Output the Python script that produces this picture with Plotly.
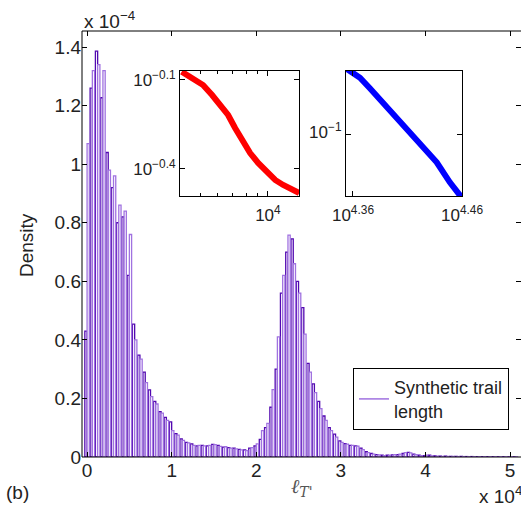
import plotly.graph_objects as go

# ---------------- data ----------------
bin_width = 625.0  # trail length bin width
# density values in units of 1e-4, two interleaved histogram series
dens_dark = [0.43, 1.26, 1.386, 1.227, 1.04, 0.92, 0.80, 0.82, 0.62, 0.454,
             0.348, 0.29, 0.229, 0.19, 0.155, 0.135, 0.12, 0.08, 0.062, 0.05,
             0.045, 0.038, 0.04, 0.038, 0.043, 0.04, 0.034, 0.032, 0.03, 0.026,
             0.024, 0.03, 0.038, 0.06, 0.10, 0.17, 0.30, 0.56, 0.70, 0.745,
             0.60, 0.51, 0.32, 0.25, 0.19, 0.14, 0.10, 0.078, 0.055, 0.046,
             0.04, 0.038, 0.03, 0.018, 0.012, 0.008, 0.006, 0.006, 0.007, 0.008,
             0.012, 0.016, 0.01, 0.006, 0.005, 0.006, 0.004, 0.003, 0.003, 0.002,
             0.002, 0.002, 0.0015, 0.0015, 0.001, 0.001, 0.001, 0.001, 0.0008, 0.0008,
             0.0005, 0.0005]
dens_light = [1.07, 1.32, 1.34, 1.32, 0.98, 0.96, 0.86, 0.84, 0.76, 0.40,
              0.334, 0.254, 0.206, 0.181, 0.15, 0.125, 0.09, 0.075, 0.057, 0.048,
              0.04, 0.04, 0.038, 0.04, 0.042, 0.036, 0.035, 0.03, 0.028, 0.024,
              0.022, 0.032, 0.045, 0.09, 0.115, 0.23, 0.41, 0.62, 0.758, 0.66,
              0.56, 0.42, 0.29, 0.22, 0.165, 0.125, 0.09, 0.068, 0.05, 0.044,
              0.04, 0.037, 0.025, 0.015, 0.01, 0.007, 0.005, 0.006, 0.008, 0.01,
              0.015, 0.014, 0.008, 0.005, 0.006, 0.004, 0.003, 0.002, 0.002, 0.002,
              0.0015, 0.0015, 0.001, 0.001, 0.001, 0.001, 0.0008, 0.0008, 0.0005, 0.0005,
              0.0004, 0.0004]
bin_centers = [i * bin_width for i in range(len(dens_dark))]

# inset 1 (red): log-log curve
red_x = [4146, 4654, 5155, 5653, 6262, 6658, 7152, 7685, 8339, 9051, 9924,
         10771, 11690, 12818, 13770]
red_y = [0.8464, 0.8061, 0.7636, 0.7066, 0.6439, 0.6052, 0.5471, 0.4985, 0.4506,
         0.4170, 0.3889, 0.3656, 0.3517, 0.3409, 0.3305]

# inset 2 (blue): log-log curve
blue_x = [22610, 23250, 23740, 24410, 25130, 25800, 26520, 27340, 28110, 28840]
blue_y = [0.1595, 0.1497, 0.1390, 0.1252, 0.1128, 0.1030, 0.0928, 0.0825, 0.0716, 0.0641]

x_tickvals = [0, 10000, 20000, 30000, 40000, 50000]
x_ticktext = ["0", "1", "2", "3", "4", "5"]
y_tickvals = [0, 0.2, 0.4, 0.6, 0.8, 1.0, 1.2, 1.4]
y_ticktext = ["0", "0.2", "0.4", "0.6", "0.8", "1", "1.2", "1.4"]

DARK = "#5208b0"
LIGHT = "#a072e0"
FONT = "Liberation Sans, Arial, Helvetica, sans-serif"
TXT = "#222222"
FS = 19

fig = go.Figure()
fig.add_trace(go.Bar(x=bin_centers, y=dens_dark, marker=dict(color="white", line=dict(color=DARK, width=1.3)),
                     showlegend=False))
fig.add_trace(go.Bar(x=bin_centers, y=dens_light, marker=dict(color="white", line=dict(color=LIGHT, width=1.3)),
                     showlegend=False))
# legend entry (line sample)
fig.add_trace(go.Scatter(x=[None], y=[None], mode="lines", line=dict(color=LIGHT, width=1.5),
                         name="Synthetic trail<br>length", showlegend=True))

fig.add_trace(go.Scatter(x=red_x, y=red_y, mode="lines", line=dict(color="#ff0000", width=6),
                         xaxis="x2", yaxis="y2", showlegend=False, cliponaxis=True))
fig.add_trace(go.Scatter(x=blue_x, y=blue_y, mode="lines", line=dict(color="#0000ff", width=6),
                         xaxis="x3", yaxis="y3", showlegend=False))

W, H = 521, 508
L, R, T, B = 82, 0, 31, 51
pw, ph = W - L - R, H - T - B

def px2x(px):
    return (px - L) / pw

def py2y(py):
    return (H - B - py) / ph

axis_common = dict(showline=True, linecolor="black", linewidth=1, mirror="ticks", ticks="inside",
                   ticklen=5, tickcolor="black", showgrid=False, zeroline=False,
                   tickfont=dict(family=FONT, size=FS, color=TXT))
main_axis = {**axis_common, "showline": False, "mirror": "allticks"}
inset_common = {**axis_common, "mirror": "allticks", "tickfont": dict(family=FONT, size=17, color=TXT)}

fig.update_layout(
    width=W, height=H, margin=dict(l=L, r=R, t=T, b=B, pad=0, autoexpand=False),
    paper_bgcolor="white", plot_bgcolor="white",
    barmode="group", bargap=0.15, bargroupgap=0.0,
    xaxis=dict(range=[-600, 51300], tickvals=x_tickvals, ticktext=x_ticktext, **main_axis),
    yaxis=dict(range=[0, 1.455], tickvals=y_tickvals, ticktext=y_ticktext, **main_axis),
    xaxis2=dict(type="log", range=[3.61, 4.138], domain=[px2x(180), px2x(299)], anchor="y2",
                tickvals=[10000], ticktext=["10<sup>4</sup>"], ticklabelstandoff=4,
                minor=dict(tickvals=[5000, 6000, 7000, 8000, 9000], ticks="inside", ticklen=3, tickcolor="black"),
                **inset_common),
    yaxis2=dict(type="log", range=[-0.491, -0.07], domain=[py2y(196), py2y(71)], anchor="x2",
                tickvals=[10 ** -0.4, 10 ** -0.1], ticktext=["10<sup>−0.4</sup>", "10<sup>−0.1</sup>"],
                **inset_common),
    xaxis3=dict(type="log", range=[4.3536, 4.46], domain=[px2x(346), px2x(462)], anchor="y3",
                tickvals=[10 ** 4.36, 10 ** 4.46], ticktext=["10<sup>4.36</sup>", "10<sup>4.46</sup>"],
                ticklabelstandoff=4, **inset_common),
    yaxis3=dict(type="log", range=[-1.187, -0.804], domain=[py2y(196), py2y(71)], anchor="x3",
                tickvals=[0.1], ticktext=["10<sup>−1</sup>"], ticklabelshift=-3,
                **inset_common),
    legend=dict(x=px2x(353), y=py2y(368), xanchor="left", yanchor="top",
                bgcolor="white", bordercolor="black", borderwidth=1, itemwidth=30,
                font=dict(family=FONT, size=18, color=TXT), tracegroupgap=0),
    font=dict(family=FONT, size=FS, color=TXT),
)

# main axes box: left, bottom, top (right side falls beyond the picture)
for x0, y0, x1, y1 in [(0, 0, 0, 1), (0, 0, 1, 0), (0, 1, 1, 1)]:
    fig.add_shape(type="line", xref="paper", yref="paper", x0=x0, y0=y0, x1=x1, y1=y1,
                  line=dict(color="black", width=1), layer="above")

fig.add_annotation(xref="paper", yref="paper", x=0, y=1, xanchor="left", yanchor="bottom",
                   text="x 10<sup>−4</sup>", showarrow=False, font=dict(family=FONT, size=FS, color=TXT), yshift=-3)
fig.add_annotation(xref="paper", yref="paper", x=1, y=0, xanchor="right", yanchor="top",
                   text="x 10<sup>4</sup>", showarrow=False, font=dict(family=FONT, size=FS, color=TXT), yshift=-24, xshift=3)
fig.add_annotation(xref="paper", yref="paper", x=px2x(4), y=py2y(493), xanchor="left", yanchor="middle",
                   text="(b)", showarrow=False, font=dict(family=FONT, size=FS, color=TXT))
fig.add_annotation(xref="paper", yref="paper", x=px2x(27), y=py2y(245), xanchor="center", yanchor="middle",
                   text="Density", textangle=-90, showarrow=False, font=dict(family=FONT, size=FS, color=TXT))
fig.add_annotation(xref="paper", yref="paper", x=px2x(302), y=py2y(487), xanchor="center", yanchor="middle",
                   text="<i>ℓ<sub>T'</sub></i>", showarrow=False, font=dict(family="DejaVu Serif, serif", size=20, color="#555555"))

fig.write_html("out.html")
